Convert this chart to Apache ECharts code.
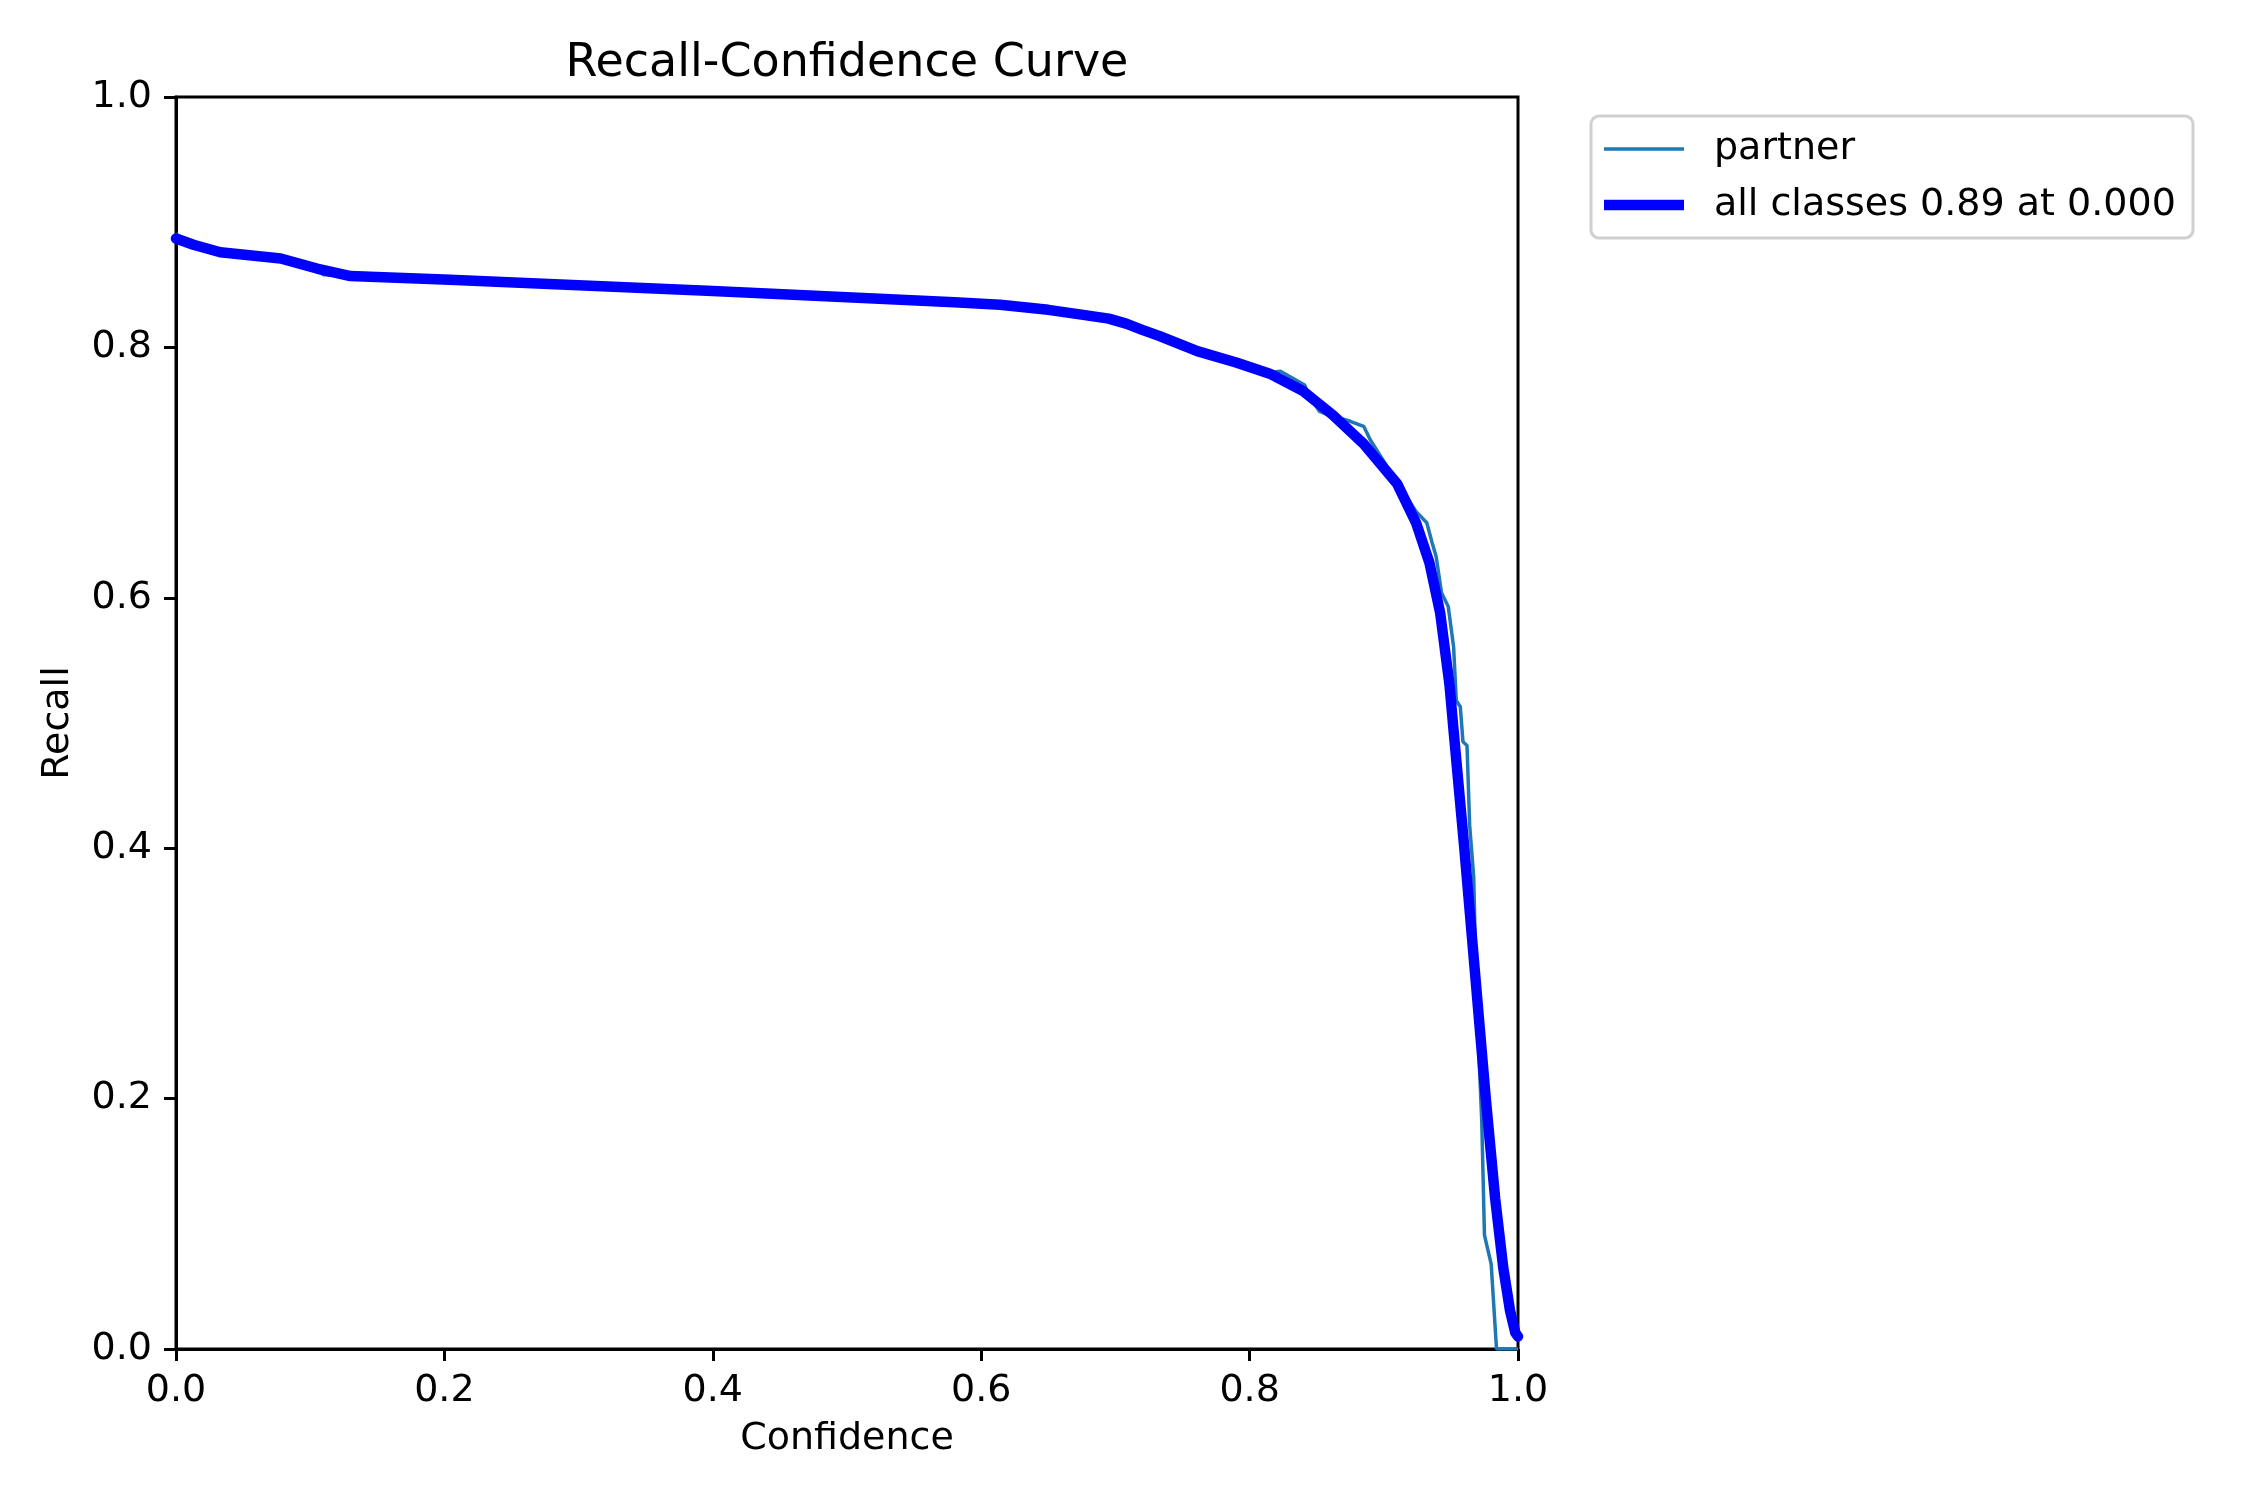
<!doctype html>
<html>
<head>
<meta charset="utf-8">
<title>Recall-Confidence Curve</title>
<style type="text/css">
html, body {
  margin: 0;
  padding: 0;
  background-color: #fff;
}
#chart {
  width: 2250px;
  height: 1500px;
}
</style>
<script type="text/javascript" src="https://cdn.jsdelivr.net/npm/echarts@6/dist/echarts.min.js"></script>
</head>
<body>
<div id="chart"></div>
<script type="text/javascript">
// values
var xTicks = [0.0, 0.2, 0.4, 0.6, 0.8, 1.0];
var yTicks = [0.0, 0.2, 0.4, 0.6, 0.8, 1.0];

// partner class curve
var partnerConf = [0, 0.004, 0.013, 0.033, 0.078, 0.105, 0.11, 0.13, 0.204, 0.4, 0.54, 0.614, 0.676, 0.708,
  0.733, 0.761, 0.79, 0.815, 0.823, 0.841, 0.844, 0.852, 0.862, 0.875, 0.885, 0.89, 0.91, 0.924, 0.932,
  0.936, 0.939, 0.943, 0.948, 0.952, 0.954, 0.957, 0.959, 0.962, 0.964, 0.967, 0.969, 0.973, 0.975,
  0.98, 0.984, 1.0];
var partnerRecall = [0.891, 0.886, 0.882, 0.876, 0.871, 0.862, 0.858, 0.857, 0.854, 0.845, 0.838, 0.834, 0.826, 0.819,
  0.809, 0.797, 0.788, 0.780, 0.781, 0.770, 0.762, 0.749, 0.745, 0.741, 0.737, 0.726, 0.692, 0.669, 0.660,
  0.644, 0.633, 0.604, 0.593, 0.561, 0.518, 0.513, 0.485, 0.482, 0.418, 0.377, 0.283, 0.182, 0.091,
  0.068, 0.0, 0.0];

// all classes curve
var allConf = [0, 0.013, 0.033, 0.078, 0.105, 0.13, 0.204, 0.4, 0.54, 0.58, 0.614, 0.65, 0.676, 0.695, 0.708,
  0.72, 0.733, 0.761, 0.79, 0.815, 0.84, 0.862, 0.885, 0.91, 0.924, 0.934, 0.942, 0.949, 0.952, 0.96,
  0.968, 0.976, 0.983, 0.989, 0.994, 0.998, 1.0];
var allRecall = [0.887, 0.882, 0.876, 0.871, 0.863, 0.857, 0.854, 0.845, 0.838, 0.836, 0.834, 0.830, 0.826, 0.823, 0.819,
  0.814, 0.809, 0.797, 0.788, 0.779, 0.765, 0.746, 0.723, 0.691, 0.660, 0.628, 0.588, 0.530, 0.494, 0.40,
  0.30, 0.20, 0.12, 0.065, 0.031, 0.013, 0.010];

var partnerName = 'partner';
var allName = 'all classes 0.89 at 0.000';

function zip(xs, ys) {
  var res = [];
  for (var i = 0; i < xs.length; i++) {
    res.push([xs[i], ys[i]]);
  }
  return res;
}

var font = 'DejaVu Sans';
var myChart = echarts.init(document.getElementById('chart'), null, { renderer: 'canvas' });

var option = {
  backgroundColor: '#ffffff',
  animation: false,
  title: {
    text: 'Recall-Confidence Curve',
    left: 847,
    top: 41,
    padding: 0,
    textAlign: 'center',
    textStyle: { fontFamily: font, fontSize: 46, fontWeight: 'normal', color: '#000' }
  },
  grid: {
    left: 176,
    right: 732,
    top: 97,
    bottom: 151,
    show: true,
    borderColor: '#000',
    borderWidth: 3,
    backgroundColor: 'transparent'
  },
  graphic: [{
    type: 'rect',
    shape: { x: 1591, y: 116, width: 602, height: 122, r: 8 },
    style: { fill: '#ffffff', stroke: '#d0d0d0', lineWidth: 3 },
    z: 1
  }],
  legend: [{
    data: [{ name: partnerName, icon: 'rect' }],
    left: 1604,
    top: 128,
    padding: 0,
    itemWidth: 80,
    itemHeight: 3.5,
    z: 5,
    textStyle: { fontFamily: font, fontSize: 38, color: '#000', lineHeight: 42, padding: [0, 0, 0, 25] }
  }, {
    data: [{ name: allName, icon: 'rect' }],
    left: 1604,
    top: 184,
    padding: 0,
    itemWidth: 80,
    itemHeight: 10.5,
    z: 5,
    textStyle: { fontFamily: font, fontSize: 38, color: '#000', lineHeight: 42, padding: [0, 0, 0, 25] }
  }],
  xAxis: {
    type: 'value',
    min: xTicks[0],
    max: xTicks[xTicks.length - 1],
    interval: 0.2,
    name: 'Confidence',
    nameLocation: 'middle',
    nameGap: 71,
    nameTextStyle: { fontFamily: font, fontSize: 38, color: '#000' },
    axisLine: { show: true, lineStyle: { color: '#000', width: 3 } },
    axisTick: { show: true, inside: false, length: 12, lineStyle: { color: '#000', width: 3 } },
    axisLabel: {
      margin: 23,
      fontFamily: font,
      fontSize: 38,
      color: '#000',
      formatter: function (v) { return v.toFixed(1); }
    },
    splitLine: { show: false }
  },
  yAxis: {
    type: 'value',
    min: yTicks[0],
    max: yTicks[yTicks.length - 1],
    interval: 0.2,
    name: 'Recall',
    nameLocation: 'middle',
    nameGap: 99,
    nameTextStyle: { fontFamily: font, fontSize: 38, color: '#000' },
    axisLine: { show: true, lineStyle: { color: '#000', width: 3 } },
    axisTick: { show: true, inside: false, length: 12, lineStyle: { color: '#000', width: 3 } },
    axisLabel: {
      margin: 24,
      fontFamily: font,
      fontSize: 38,
      color: '#000',
      formatter: function (v) { return v.toFixed(1); }
    },
    splitLine: { show: false }
  },
  series: [{
    name: partnerName,
    type: 'line',
    data: zip(partnerConf, partnerRecall),
    showSymbol: false,
    symbol: 'none',
    color: '#1f77b4',
    lineStyle: { color: '#1f77b4', width: 3.5 },
    z: 2
  }, {
    name: allName,
    type: 'line',
    data: zip(allConf, allRecall),
    showSymbol: false,
    symbol: 'none',
    color: '#0000ff',
    lineStyle: { color: '#0000ff', width: 10.5, join: 'round', cap: 'round' },
    z: 3
  }]
};
myChart.setOption(option);
</script>
</body>
</html>
